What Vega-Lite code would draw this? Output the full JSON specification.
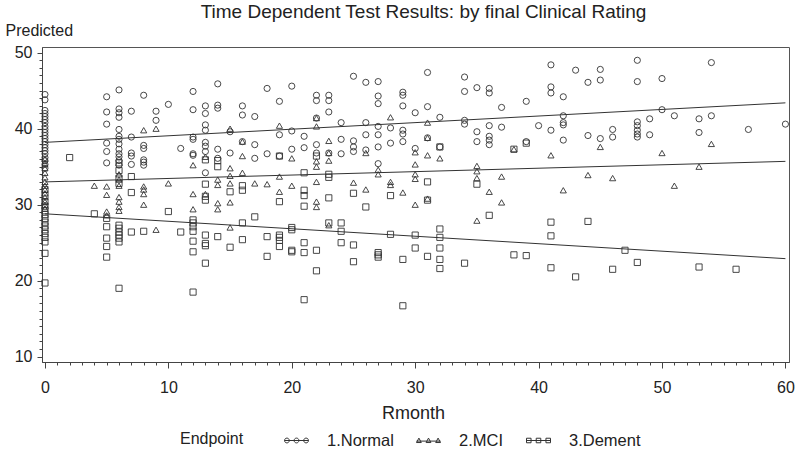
{
  "$schema": "https://vega.github.io/schema/vega-lite/v6.json",
  "width": 747,
  "height": 315,
  "autosize": "none",
  "padding": {"left": 42, "top": 47, "right": 11, "bottom": 96},
  "background": "white",
  "title": {"text": "Time Dependent Test Results: by final Clinical Rating", "font": "Liberation Sans", "fontSize": 19, "fontWeight": "normal", "color": "#222", "anchor": "middle", "dx": 8, "dy": 15, "offset": 0, "baseline": "alphabetic"},
  "config": {"view": {"stroke": "#555", "strokeWidth": 1}, "font": "Liberation Sans"},
  "datasets": {
    "fit": [
      {"Rmonth": 0, "Predicted": 38.2, "Endpoint": "1.Normal"}, {"Rmonth": 60, "Predicted": 43.4, "Endpoint": "1.Normal"},
      {"Rmonth": 0, "Predicted": 33.0, "Endpoint": "2.MCI"}, {"Rmonth": 60, "Predicted": 35.7, "Endpoint": "2.MCI"},
      {"Rmonth": 0, "Predicted": 28.8, "Endpoint": "3.Dement"}, {"Rmonth": 60, "Predicted": 22.9, "Endpoint": "3.Dement"}
    ],
    "pts": [
      {"Rmonth":0,"Predicted":44.5,"Endpoint":"1.Normal"},{"Rmonth":0,"Predicted":43.8,"Endpoint":"1.Normal"},{"Rmonth":0,"Predicted":42.4,"Endpoint":"1.Normal"},{"Rmonth":0,"Predicted":42.0,"Endpoint":"1.Normal"},{"Rmonth":0,"Predicted":41.6,"Endpoint":"1.Normal"},{"Rmonth":0,"Predicted":41.2,"Endpoint":"1.Normal"},{"Rmonth":0,"Predicted":40.8,"Endpoint":"1.Normal"},{"Rmonth":0,"Predicted":40.3,"Endpoint":"1.Normal"},{"Rmonth":0,"Predicted":39.9,"Endpoint":"1.Normal"},{"Rmonth":0,"Predicted":39.5,"Endpoint":"1.Normal"},{"Rmonth":0,"Predicted":39.1,"Endpoint":"1.Normal"},{"Rmonth":0,"Predicted":38.7,"Endpoint":"1.Normal"},{"Rmonth":0,"Predicted":38.3,"Endpoint":"1.Normal"},{"Rmonth":0,"Predicted":37.9,"Endpoint":"1.Normal"},{"Rmonth":0,"Predicted":37.5,"Endpoint":"1.Normal"},{"Rmonth":0,"Predicted":37.1,"Endpoint":"1.Normal"},{"Rmonth":0,"Predicted":36.7,"Endpoint":"1.Normal"},{"Rmonth":0,"Predicted":36.2,"Endpoint":"1.Normal"},{"Rmonth":0,"Predicted":35.8,"Endpoint":"1.Normal"},{"Rmonth":0,"Predicted":35.3,"Endpoint":"1.Normal"},{"Rmonth":0,"Predicted":34.8,"Endpoint":"1.Normal"},
      {"Rmonth":5,"Predicted":44.2,"Endpoint":"1.Normal"},{"Rmonth":5,"Predicted":42.2,"Endpoint":"1.Normal"},{"Rmonth":5,"Predicted":40.6,"Endpoint":"1.Normal"},{"Rmonth":5,"Predicted":38.1,"Endpoint":"1.Normal"},{"Rmonth":5,"Predicted":37.0,"Endpoint":"1.Normal"},{"Rmonth":5,"Predicted":35.5,"Endpoint":"1.Normal"},
      {"Rmonth":6,"Predicted":45.1,"Endpoint":"1.Normal"},{"Rmonth":6,"Predicted":42.6,"Endpoint":"1.Normal"},{"Rmonth":6,"Predicted":42.1,"Endpoint":"1.Normal"},{"Rmonth":6,"Predicted":41.5,"Endpoint":"1.Normal"},{"Rmonth":6,"Predicted":39.9,"Endpoint":"1.Normal"},{"Rmonth":6,"Predicted":39.0,"Endpoint":"1.Normal"},{"Rmonth":6,"Predicted":38.6,"Endpoint":"1.Normal"},{"Rmonth":6,"Predicted":38.0,"Endpoint":"1.Normal"},{"Rmonth":6,"Predicted":37.3,"Endpoint":"1.Normal"},{"Rmonth":6,"Predicted":36.7,"Endpoint":"1.Normal"},{"Rmonth":6,"Predicted":36.3,"Endpoint":"1.Normal"},{"Rmonth":6,"Predicted":35.8,"Endpoint":"1.Normal"},{"Rmonth":6,"Predicted":35.2,"Endpoint":"1.Normal"},
      {"Rmonth":7,"Predicted":42.3,"Endpoint":"1.Normal"},{"Rmonth":7,"Predicted":38.9,"Endpoint":"1.Normal"},{"Rmonth":7,"Predicted":36.8,"Endpoint":"1.Normal"},{"Rmonth":7,"Predicted":36.4,"Endpoint":"1.Normal"},{"Rmonth":7,"Predicted":35.3,"Endpoint":"1.Normal"},
      {"Rmonth":8,"Predicted":44.4,"Endpoint":"1.Normal"},{"Rmonth":8,"Predicted":37.8,"Endpoint":"1.Normal"},{"Rmonth":8,"Predicted":37.4,"Endpoint":"1.Normal"},{"Rmonth":8,"Predicted":35.9,"Endpoint":"1.Normal"},{"Rmonth":8,"Predicted":35.6,"Endpoint":"1.Normal"},{"Rmonth":8,"Predicted":35.2,"Endpoint":"1.Normal"},
      {"Rmonth":9,"Predicted":42.3,"Endpoint":"1.Normal"},{"Rmonth":9,"Predicted":41.1,"Endpoint":"1.Normal"},
      {"Rmonth":10,"Predicted":43.2,"Endpoint":"1.Normal"},{"Rmonth":11,"Predicted":37.4,"Endpoint":"1.Normal"},
      {"Rmonth":12,"Predicted":44.9,"Endpoint":"1.Normal"},{"Rmonth":12,"Predicted":42.5,"Endpoint":"1.Normal"},{"Rmonth":12,"Predicted":38.9,"Endpoint":"1.Normal"},{"Rmonth":12,"Predicted":38.6,"Endpoint":"1.Normal"},{"Rmonth":12,"Predicted":36.7,"Endpoint":"1.Normal"},{"Rmonth":12,"Predicted":36.5,"Endpoint":"1.Normal"},
      {"Rmonth":13,"Predicted":43.0,"Endpoint":"1.Normal"},{"Rmonth":13,"Predicted":42.0,"Endpoint":"1.Normal"},{"Rmonth":13,"Predicted":40.5,"Endpoint":"1.Normal"},{"Rmonth":13,"Predicted":39.8,"Endpoint":"1.Normal"},{"Rmonth":13,"Predicted":38.2,"Endpoint":"1.Normal"},{"Rmonth":13,"Predicted":37.7,"Endpoint":"1.Normal"},{"Rmonth":13,"Predicted":37.0,"Endpoint":"1.Normal"},{"Rmonth":13,"Predicted":34.2,"Endpoint":"1.Normal"},
      {"Rmonth":14,"Predicted":45.9,"Endpoint":"1.Normal"},{"Rmonth":14,"Predicted":43.1,"Endpoint":"1.Normal"},{"Rmonth":14,"Predicted":42.7,"Endpoint":"1.Normal"},{"Rmonth":14,"Predicted":37.3,"Endpoint":"1.Normal"},{"Rmonth":14,"Predicted":36.1,"Endpoint":"1.Normal"},
      {"Rmonth":15,"Predicted":39.6,"Endpoint":"1.Normal"},{"Rmonth":15,"Predicted":36.8,"Endpoint":"1.Normal"},
      {"Rmonth":16,"Predicted":43.0,"Endpoint":"1.Normal"},{"Rmonth":16,"Predicted":41.8,"Endpoint":"1.Normal"},{"Rmonth":16,"Predicted":38.3,"Endpoint":"1.Normal"},
      {"Rmonth":17,"Predicted":41.6,"Endpoint":"1.Normal"},{"Rmonth":17,"Predicted":37.9,"Endpoint":"1.Normal"},{"Rmonth":17,"Predicted":36.1,"Endpoint":"1.Normal"},
      {"Rmonth":18,"Predicted":45.3,"Endpoint":"1.Normal"},{"Rmonth":18,"Predicted":36.7,"Endpoint":"1.Normal"},
      {"Rmonth":19,"Predicted":43.6,"Endpoint":"1.Normal"},{"Rmonth":19,"Predicted":39.2,"Endpoint":"1.Normal"},{"Rmonth":19,"Predicted":36.4,"Endpoint":"1.Normal"},
      {"Rmonth":20,"Predicted":45.6,"Endpoint":"1.Normal"},{"Rmonth":20,"Predicted":39.7,"Endpoint":"1.Normal"},{"Rmonth":20,"Predicted":37.3,"Endpoint":"1.Normal"},
      {"Rmonth":21,"Predicted":39.0,"Endpoint":"1.Normal"},{"Rmonth":21,"Predicted":37.5,"Endpoint":"1.Normal"},
      {"Rmonth":22,"Predicted":44.4,"Endpoint":"1.Normal"},{"Rmonth":22,"Predicted":43.7,"Endpoint":"1.Normal"},{"Rmonth":22,"Predicted":41.4,"Endpoint":"1.Normal"},{"Rmonth":22,"Predicted":37.9,"Endpoint":"1.Normal"},{"Rmonth":22,"Predicted":36.8,"Endpoint":"1.Normal"},
      {"Rmonth":23,"Predicted":44.4,"Endpoint":"1.Normal"},{"Rmonth":23,"Predicted":43.7,"Endpoint":"1.Normal"},{"Rmonth":23,"Predicted":42.2,"Endpoint":"1.Normal"},{"Rmonth":23,"Predicted":36.8,"Endpoint":"1.Normal"},
      {"Rmonth":24,"Predicted":40.8,"Endpoint":"1.Normal"},{"Rmonth":24,"Predicted":38.6,"Endpoint":"1.Normal"},{"Rmonth":24,"Predicted":36.7,"Endpoint":"1.Normal"},
      {"Rmonth":25,"Predicted":46.9,"Endpoint":"1.Normal"},{"Rmonth":25,"Predicted":38.4,"Endpoint":"1.Normal"},{"Rmonth":25,"Predicted":37.6,"Endpoint":"1.Normal"},{"Rmonth":25,"Predicted":37.0,"Endpoint":"1.Normal"},
      {"Rmonth":26,"Predicted":46.1,"Endpoint":"1.Normal"},{"Rmonth":26,"Predicted":40.8,"Endpoint":"1.Normal"},{"Rmonth":26,"Predicted":39.2,"Endpoint":"1.Normal"},{"Rmonth":26,"Predicted":37.2,"Endpoint":"1.Normal"},
      {"Rmonth":27,"Predicted":46.2,"Endpoint":"1.Normal"},{"Rmonth":27,"Predicted":44.3,"Endpoint":"1.Normal"},{"Rmonth":27,"Predicted":43.3,"Endpoint":"1.Normal"},{"Rmonth":27,"Predicted":40.3,"Endpoint":"1.Normal"},{"Rmonth":27,"Predicted":39.2,"Endpoint":"1.Normal"},{"Rmonth":27,"Predicted":37.6,"Endpoint":"1.Normal"},{"Rmonth":27,"Predicted":35.4,"Endpoint":"1.Normal"},
      {"Rmonth":28,"Predicted":40.1,"Endpoint":"1.Normal"},{"Rmonth":28,"Predicted":38.1,"Endpoint":"1.Normal"},
      {"Rmonth":29,"Predicted":44.8,"Endpoint":"1.Normal"},{"Rmonth":29,"Predicted":44.4,"Endpoint":"1.Normal"},{"Rmonth":29,"Predicted":43.0,"Endpoint":"1.Normal"},{"Rmonth":29,"Predicted":39.8,"Endpoint":"1.Normal"},{"Rmonth":29,"Predicted":39.3,"Endpoint":"1.Normal"},{"Rmonth":29,"Predicted":38.3,"Endpoint":"1.Normal"},
      {"Rmonth":30,"Predicted":42.1,"Endpoint":"1.Normal"},{"Rmonth":30,"Predicted":37.4,"Endpoint":"1.Normal"},
      {"Rmonth":31,"Predicted":47.4,"Endpoint":"1.Normal"},{"Rmonth":31,"Predicted":42.9,"Endpoint":"1.Normal"},{"Rmonth":31,"Predicted":38.8,"Endpoint":"1.Normal"},
      {"Rmonth":32,"Predicted":41.5,"Endpoint":"1.Normal"},{"Rmonth":32,"Predicted":37.6,"Endpoint":"1.Normal"},
      {"Rmonth":34,"Predicted":46.8,"Endpoint":"1.Normal"},{"Rmonth":34,"Predicted":44.9,"Endpoint":"1.Normal"},{"Rmonth":34,"Predicted":41.1,"Endpoint":"1.Normal"},{"Rmonth":34,"Predicted":40.6,"Endpoint":"1.Normal"},
      {"Rmonth":35,"Predicted":45.4,"Endpoint":"1.Normal"},{"Rmonth":35,"Predicted":39.6,"Endpoint":"1.Normal"},{"Rmonth":35,"Predicted":38.3,"Endpoint":"1.Normal"},
      {"Rmonth":36,"Predicted":45.3,"Endpoint":"1.Normal"},{"Rmonth":36,"Predicted":44.7,"Endpoint":"1.Normal"},{"Rmonth":36,"Predicted":40.4,"Endpoint":"1.Normal"},{"Rmonth":36,"Predicted":39.0,"Endpoint":"1.Normal"},{"Rmonth":36,"Predicted":38.5,"Endpoint":"1.Normal"},{"Rmonth":36,"Predicted":37.9,"Endpoint":"1.Normal"},
      {"Rmonth":37,"Predicted":42.8,"Endpoint":"1.Normal"},{"Rmonth":37,"Predicted":40.2,"Endpoint":"1.Normal"},
      {"Rmonth":39,"Predicted":43.6,"Endpoint":"1.Normal"},{"Rmonth":39,"Predicted":38.3,"Endpoint":"1.Normal"},
      {"Rmonth":40,"Predicted":40.4,"Endpoint":"1.Normal"},
      {"Rmonth":41,"Predicted":48.4,"Endpoint":"1.Normal"},{"Rmonth":41,"Predicted":45.5,"Endpoint":"1.Normal"},{"Rmonth":41,"Predicted":44.7,"Endpoint":"1.Normal"},{"Rmonth":41,"Predicted":39.8,"Endpoint":"1.Normal"},
      {"Rmonth":42,"Predicted":44.2,"Endpoint":"1.Normal"},{"Rmonth":42,"Predicted":41.7,"Endpoint":"1.Normal"},{"Rmonth":42,"Predicted":40.8,"Endpoint":"1.Normal"},{"Rmonth":42,"Predicted":40.5,"Endpoint":"1.Normal"},{"Rmonth":42,"Predicted":38.5,"Endpoint":"1.Normal"},
      {"Rmonth":43,"Predicted":47.7,"Endpoint":"1.Normal"},
      {"Rmonth":44,"Predicted":46.1,"Endpoint":"1.Normal"},{"Rmonth":44,"Predicted":39.1,"Endpoint":"1.Normal"},
      {"Rmonth":45,"Predicted":47.8,"Endpoint":"1.Normal"},{"Rmonth":45,"Predicted":46.4,"Endpoint":"1.Normal"},{"Rmonth":45,"Predicted":38.7,"Endpoint":"1.Normal"},
      {"Rmonth":46,"Predicted":39.9,"Endpoint":"1.Normal"},{"Rmonth":46,"Predicted":38.9,"Endpoint":"1.Normal"},
      {"Rmonth":48,"Predicted":49.0,"Endpoint":"1.Normal"},{"Rmonth":48,"Predicted":46.2,"Endpoint":"1.Normal"},{"Rmonth":48,"Predicted":40.9,"Endpoint":"1.Normal"},{"Rmonth":48,"Predicted":40.4,"Endpoint":"1.Normal"},{"Rmonth":48,"Predicted":39.8,"Endpoint":"1.Normal"},{"Rmonth":48,"Predicted":39.3,"Endpoint":"1.Normal"},{"Rmonth":48,"Predicted":38.9,"Endpoint":"1.Normal"},
      {"Rmonth":49,"Predicted":41.3,"Endpoint":"1.Normal"},{"Rmonth":49,"Predicted":39.2,"Endpoint":"1.Normal"},
      {"Rmonth":50,"Predicted":46.6,"Endpoint":"1.Normal"},{"Rmonth":50,"Predicted":42.5,"Endpoint":"1.Normal"},
      {"Rmonth":51,"Predicted":41.7,"Endpoint":"1.Normal"},
      {"Rmonth":53,"Predicted":41.3,"Endpoint":"1.Normal"},{"Rmonth":53,"Predicted":39.5,"Endpoint":"1.Normal"},
      {"Rmonth":54,"Predicted":48.7,"Endpoint":"1.Normal"},{"Rmonth":54,"Predicted":41.7,"Endpoint":"1.Normal"},
      {"Rmonth":57,"Predicted":39.9,"Endpoint":"1.Normal"},{"Rmonth":60,"Predicted":40.6,"Endpoint":"1.Normal"},

      {"Rmonth":0,"Predicted":36.0,"Endpoint":"2.MCI"},{"Rmonth":0,"Predicted":35.4,"Endpoint":"2.MCI"},{"Rmonth":0,"Predicted":34.8,"Endpoint":"2.MCI"},{"Rmonth":0,"Predicted":34.2,"Endpoint":"2.MCI"},{"Rmonth":0,"Predicted":33.6,"Endpoint":"2.MCI"},{"Rmonth":0,"Predicted":33.0,"Endpoint":"2.MCI"},{"Rmonth":0,"Predicted":32.5,"Endpoint":"2.MCI"},{"Rmonth":0,"Predicted":32.0,"Endpoint":"2.MCI"},{"Rmonth":0,"Predicted":31.5,"Endpoint":"2.MCI"},{"Rmonth":0,"Predicted":31.0,"Endpoint":"2.MCI"},{"Rmonth":0,"Predicted":30.4,"Endpoint":"2.MCI"},{"Rmonth":0,"Predicted":30.0,"Endpoint":"2.MCI"},{"Rmonth":0,"Predicted":29.5,"Endpoint":"2.MCI"},
      {"Rmonth":4,"Predicted":32.5,"Endpoint":"2.MCI"},
      {"Rmonth":5,"Predicted":32.4,"Endpoint":"2.MCI"},{"Rmonth":5,"Predicted":31.3,"Endpoint":"2.MCI"},{"Rmonth":5,"Predicted":29.1,"Endpoint":"2.MCI"},{"Rmonth":5,"Predicted":28.6,"Endpoint":"2.MCI"},
      {"Rmonth":6,"Predicted":34.0,"Endpoint":"2.MCI"},{"Rmonth":6,"Predicted":33.3,"Endpoint":"2.MCI"},{"Rmonth":6,"Predicted":32.5,"Endpoint":"2.MCI"},{"Rmonth":6,"Predicted":31.0,"Endpoint":"2.MCI"},{"Rmonth":6,"Predicted":30.4,"Endpoint":"2.MCI"},{"Rmonth":6,"Predicted":29.7,"Endpoint":"2.MCI"},{"Rmonth":6,"Predicted":29.2,"Endpoint":"2.MCI"},
      {"Rmonth":8,"Predicted":39.8,"Endpoint":"2.MCI"},{"Rmonth":8,"Predicted":32.4,"Endpoint":"2.MCI"},{"Rmonth":8,"Predicted":32.0,"Endpoint":"2.MCI"},{"Rmonth":8,"Predicted":31.4,"Endpoint":"2.MCI"},{"Rmonth":8,"Predicted":30.0,"Endpoint":"2.MCI"},
      {"Rmonth":9,"Predicted":40.0,"Endpoint":"2.MCI"},{"Rmonth":9,"Predicted":26.7,"Endpoint":"2.MCI"},
      {"Rmonth":10,"Predicted":32.8,"Endpoint":"2.MCI"},
      {"Rmonth":12,"Predicted":35.2,"Endpoint":"2.MCI"},{"Rmonth":12,"Predicted":31.4,"Endpoint":"2.MCI"},{"Rmonth":12,"Predicted":29.4,"Endpoint":"2.MCI"},
      {"Rmonth":13,"Predicted":36.3,"Endpoint":"2.MCI"},{"Rmonth":13,"Predicted":31.4,"Endpoint":"2.MCI"},
      {"Rmonth":14,"Predicted":33.3,"Endpoint":"2.MCI"},{"Rmonth":14,"Predicted":32.6,"Endpoint":"2.MCI"},{"Rmonth":14,"Predicted":30.2,"Endpoint":"2.MCI"},{"Rmonth":14,"Predicted":29.4,"Endpoint":"2.MCI"},
      {"Rmonth":15,"Predicted":40.0,"Endpoint":"2.MCI"},{"Rmonth":15,"Predicted":34.8,"Endpoint":"2.MCI"},{"Rmonth":15,"Predicted":33.8,"Endpoint":"2.MCI"},{"Rmonth":15,"Predicted":32.8,"Endpoint":"2.MCI"},{"Rmonth":15,"Predicted":30.3,"Endpoint":"2.MCI"},{"Rmonth":15,"Predicted":27.0,"Endpoint":"2.MCI"},
      {"Rmonth":16,"Predicted":38.3,"Endpoint":"2.MCI"},{"Rmonth":16,"Predicted":36.4,"Endpoint":"2.MCI"},{"Rmonth":16,"Predicted":34.2,"Endpoint":"2.MCI"},
      {"Rmonth":17,"Predicted":32.8,"Endpoint":"2.MCI"},{"Rmonth":18,"Predicted":32.7,"Endpoint":"2.MCI"},
      {"Rmonth":19,"Predicted":40.4,"Endpoint":"2.MCI"},{"Rmonth":19,"Predicted":33.7,"Endpoint":"2.MCI"},{"Rmonth":19,"Predicted":31.7,"Endpoint":"2.MCI"},
      {"Rmonth":20,"Predicted":36.1,"Endpoint":"2.MCI"},{"Rmonth":20,"Predicted":32.5,"Endpoint":"2.MCI"},
      {"Rmonth":22,"Predicted":41.4,"Endpoint":"2.MCI"},{"Rmonth":22,"Predicted":40.3,"Endpoint":"2.MCI"},{"Rmonth":22,"Predicted":35.7,"Endpoint":"2.MCI"},{"Rmonth":22,"Predicted":35.0,"Endpoint":"2.MCI"},{"Rmonth":22,"Predicted":33.0,"Endpoint":"2.MCI"},{"Rmonth":22,"Predicted":30.4,"Endpoint":"2.MCI"},{"Rmonth":22,"Predicted":29.7,"Endpoint":"2.MCI"},
      {"Rmonth":23,"Predicted":38.4,"Endpoint":"2.MCI"},{"Rmonth":23,"Predicted":36.8,"Endpoint":"2.MCI"},{"Rmonth":23,"Predicted":35.8,"Endpoint":"2.MCI"},{"Rmonth":23,"Predicted":27.3,"Endpoint":"2.MCI"},
      {"Rmonth":25,"Predicted":32.9,"Endpoint":"2.MCI"},
      {"Rmonth":26,"Predicted":36.8,"Endpoint":"2.MCI"},{"Rmonth":26,"Predicted":32.0,"Endpoint":"2.MCI"},
      {"Rmonth":27,"Predicted":34.6,"Endpoint":"2.MCI"},{"Rmonth":27,"Predicted":34.0,"Endpoint":"2.MCI"},
      {"Rmonth":28,"Predicted":41.5,"Endpoint":"2.MCI"},{"Rmonth":28,"Predicted":33.0,"Endpoint":"2.MCI"},{"Rmonth":28,"Predicted":32.6,"Endpoint":"2.MCI"},
      {"Rmonth":29,"Predicted":31.6,"Endpoint":"2.MCI"},
      {"Rmonth":30,"Predicted":36.9,"Endpoint":"2.MCI"},{"Rmonth":30,"Predicted":35.3,"Endpoint":"2.MCI"},{"Rmonth":30,"Predicted":34.0,"Endpoint":"2.MCI"},{"Rmonth":30,"Predicted":33.4,"Endpoint":"2.MCI"},{"Rmonth":30,"Predicted":30.0,"Endpoint":"2.MCI"},
      {"Rmonth":31,"Predicted":40.8,"Endpoint":"2.MCI"},{"Rmonth":31,"Predicted":38.8,"Endpoint":"2.MCI"},{"Rmonth":31,"Predicted":36.5,"Endpoint":"2.MCI"},{"Rmonth":31,"Predicted":30.8,"Endpoint":"2.MCI"},
      {"Rmonth":32,"Predicted":36.1,"Endpoint":"2.MCI"},
      {"Rmonth":35,"Predicted":35.1,"Endpoint":"2.MCI"},{"Rmonth":35,"Predicted":34.4,"Endpoint":"2.MCI"},{"Rmonth":35,"Predicted":33.5,"Endpoint":"2.MCI"},{"Rmonth":35,"Predicted":27.9,"Endpoint":"2.MCI"},
      {"Rmonth":36,"Predicted":31.7,"Endpoint":"2.MCI"},
      {"Rmonth":37,"Predicted":33.7,"Endpoint":"2.MCI"},{"Rmonth":37,"Predicted":30.3,"Endpoint":"2.MCI"},
      {"Rmonth":38,"Predicted":37.3,"Endpoint":"2.MCI"},{"Rmonth":41,"Predicted":36.5,"Endpoint":"2.MCI"},{"Rmonth":42,"Predicted":31.9,"Endpoint":"2.MCI"},{"Rmonth":44,"Predicted":33.9,"Endpoint":"2.MCI"},{"Rmonth":45,"Predicted":37.6,"Endpoint":"2.MCI"},{"Rmonth":46,"Predicted":33.5,"Endpoint":"2.MCI"},{"Rmonth":50,"Predicted":36.8,"Endpoint":"2.MCI"},{"Rmonth":51,"Predicted":32.5,"Endpoint":"2.MCI"},{"Rmonth":53,"Predicted":35.0,"Endpoint":"2.MCI"},{"Rmonth":54,"Predicted":38.0,"Endpoint":"2.MCI"},

      {"Rmonth":0,"Predicted":32.0,"Endpoint":"3.Dement"},{"Rmonth":0,"Predicted":31.2,"Endpoint":"3.Dement"},{"Rmonth":0,"Predicted":30.4,"Endpoint":"3.Dement"},{"Rmonth":0,"Predicted":29.8,"Endpoint":"3.Dement"},{"Rmonth":0,"Predicted":29.2,"Endpoint":"3.Dement"},{"Rmonth":0,"Predicted":28.7,"Endpoint":"3.Dement"},{"Rmonth":0,"Predicted":28.2,"Endpoint":"3.Dement"},{"Rmonth":0,"Predicted":27.7,"Endpoint":"3.Dement"},{"Rmonth":0,"Predicted":27.2,"Endpoint":"3.Dement"},{"Rmonth":0,"Predicted":26.7,"Endpoint":"3.Dement"},{"Rmonth":0,"Predicted":26.2,"Endpoint":"3.Dement"},{"Rmonth":0,"Predicted":25.7,"Endpoint":"3.Dement"},{"Rmonth":0,"Predicted":25.1,"Endpoint":"3.Dement"},{"Rmonth":0,"Predicted":23.6,"Endpoint":"3.Dement"},{"Rmonth":0,"Predicted":19.7,"Endpoint":"3.Dement"},
      {"Rmonth":2,"Predicted":36.2,"Endpoint":"3.Dement"},{"Rmonth":4,"Predicted":28.8,"Endpoint":"3.Dement"},
      {"Rmonth":5,"Predicted":28.2,"Endpoint":"3.Dement"},{"Rmonth":5,"Predicted":27.1,"Endpoint":"3.Dement"},{"Rmonth":5,"Predicted":25.6,"Endpoint":"3.Dement"},{"Rmonth":5,"Predicted":24.5,"Endpoint":"3.Dement"},{"Rmonth":5,"Predicted":23.1,"Endpoint":"3.Dement"},
      {"Rmonth":6,"Predicted":35.5,"Endpoint":"3.Dement"},{"Rmonth":6,"Predicted":34.5,"Endpoint":"3.Dement"},{"Rmonth":6,"Predicted":33.5,"Endpoint":"3.Dement"},{"Rmonth":6,"Predicted":32.8,"Endpoint":"3.Dement"},{"Rmonth":6,"Predicted":27.3,"Endpoint":"3.Dement"},{"Rmonth":6,"Predicted":26.9,"Endpoint":"3.Dement"},{"Rmonth":6,"Predicted":26.4,"Endpoint":"3.Dement"},{"Rmonth":6,"Predicted":26.0,"Endpoint":"3.Dement"},{"Rmonth":6,"Predicted":25.6,"Endpoint":"3.Dement"},{"Rmonth":6,"Predicted":25.1,"Endpoint":"3.Dement"},{"Rmonth":6,"Predicted":19.0,"Endpoint":"3.Dement"},
      {"Rmonth":7,"Predicted":33.7,"Endpoint":"3.Dement"},{"Rmonth":7,"Predicted":31.6,"Endpoint":"3.Dement"},{"Rmonth":7,"Predicted":26.4,"Endpoint":"3.Dement"},
      {"Rmonth":8,"Predicted":26.5,"Endpoint":"3.Dement"},{"Rmonth":10,"Predicted":29.1,"Endpoint":"3.Dement"},{"Rmonth":11,"Predicted":26.4,"Endpoint":"3.Dement"},
      {"Rmonth":12,"Predicted":28.0,"Endpoint":"3.Dement"},{"Rmonth":12,"Predicted":27.6,"Endpoint":"3.Dement"},{"Rmonth":12,"Predicted":27.1,"Endpoint":"3.Dement"},{"Rmonth":12,"Predicted":26.5,"Endpoint":"3.Dement"},{"Rmonth":12,"Predicted":25.2,"Endpoint":"3.Dement"},{"Rmonth":12,"Predicted":23.8,"Endpoint":"3.Dement"},{"Rmonth":12,"Predicted":18.5,"Endpoint":"3.Dement"},
      {"Rmonth":13,"Predicted":35.9,"Endpoint":"3.Dement"},{"Rmonth":13,"Predicted":32.7,"Endpoint":"3.Dement"},{"Rmonth":13,"Predicted":31.1,"Endpoint":"3.Dement"},{"Rmonth":13,"Predicted":30.6,"Endpoint":"3.Dement"},{"Rmonth":13,"Predicted":26.0,"Endpoint":"3.Dement"},{"Rmonth":13,"Predicted":24.9,"Endpoint":"3.Dement"},{"Rmonth":13,"Predicted":24.6,"Endpoint":"3.Dement"},{"Rmonth":13,"Predicted":22.3,"Endpoint":"3.Dement"},
      {"Rmonth":14,"Predicted":35.8,"Endpoint":"3.Dement"},{"Rmonth":14,"Predicted":35.0,"Endpoint":"3.Dement"},{"Rmonth":14,"Predicted":25.8,"Endpoint":"3.Dement"},
      {"Rmonth":15,"Predicted":31.7,"Endpoint":"3.Dement"},{"Rmonth":15,"Predicted":24.4,"Endpoint":"3.Dement"},
      {"Rmonth":16,"Predicted":32.5,"Endpoint":"3.Dement"},{"Rmonth":16,"Predicted":31.9,"Endpoint":"3.Dement"},{"Rmonth":16,"Predicted":27.6,"Endpoint":"3.Dement"},{"Rmonth":16,"Predicted":25.4,"Endpoint":"3.Dement"},
      {"Rmonth":17,"Predicted":28.4,"Endpoint":"3.Dement"},
      {"Rmonth":18,"Predicted":25.8,"Endpoint":"3.Dement"},{"Rmonth":18,"Predicted":23.2,"Endpoint":"3.Dement"},
      {"Rmonth":19,"Predicted":36.4,"Endpoint":"3.Dement"},{"Rmonth":19,"Predicted":30.4,"Endpoint":"3.Dement"},{"Rmonth":19,"Predicted":26.0,"Endpoint":"3.Dement"},{"Rmonth":19,"Predicted":25.7,"Endpoint":"3.Dement"},{"Rmonth":19,"Predicted":25.3,"Endpoint":"3.Dement"},{"Rmonth":19,"Predicted":24.5,"Endpoint":"3.Dement"},
      {"Rmonth":20,"Predicted":27.0,"Endpoint":"3.Dement"},{"Rmonth":20,"Predicted":26.7,"Endpoint":"3.Dement"},{"Rmonth":20,"Predicted":24.0,"Endpoint":"3.Dement"},{"Rmonth":20,"Predicted":23.8,"Endpoint":"3.Dement"},
      {"Rmonth":21,"Predicted":34.2,"Endpoint":"3.Dement"},{"Rmonth":21,"Predicted":31.9,"Endpoint":"3.Dement"},{"Rmonth":21,"Predicted":31.2,"Endpoint":"3.Dement"},{"Rmonth":21,"Predicted":29.8,"Endpoint":"3.Dement"},{"Rmonth":21,"Predicted":25.0,"Endpoint":"3.Dement"},{"Rmonth":21,"Predicted":23.7,"Endpoint":"3.Dement"},{"Rmonth":21,"Predicted":17.5,"Endpoint":"3.Dement"},
      {"Rmonth":22,"Predicted":36.4,"Endpoint":"3.Dement"},{"Rmonth":22,"Predicted":24.0,"Endpoint":"3.Dement"},{"Rmonth":22,"Predicted":21.3,"Endpoint":"3.Dement"},
      {"Rmonth":23,"Predicted":34.0,"Endpoint":"3.Dement"},{"Rmonth":23,"Predicted":33.6,"Endpoint":"3.Dement"},{"Rmonth":23,"Predicted":30.9,"Endpoint":"3.Dement"},{"Rmonth":23,"Predicted":27.6,"Endpoint":"3.Dement"},
      {"Rmonth":24,"Predicted":27.6,"Endpoint":"3.Dement"},{"Rmonth":24,"Predicted":26.5,"Endpoint":"3.Dement"},{"Rmonth":24,"Predicted":25.0,"Endpoint":"3.Dement"},
      {"Rmonth":25,"Predicted":31.5,"Endpoint":"3.Dement"},{"Rmonth":25,"Predicted":24.7,"Endpoint":"3.Dement"},{"Rmonth":25,"Predicted":22.5,"Endpoint":"3.Dement"},
      {"Rmonth":26,"Predicted":29.7,"Endpoint":"3.Dement"},
      {"Rmonth":27,"Predicted":23.7,"Endpoint":"3.Dement"},{"Rmonth":27,"Predicted":23.4,"Endpoint":"3.Dement"},{"Rmonth":27,"Predicted":23.1,"Endpoint":"3.Dement"},
      {"Rmonth":28,"Predicted":31.2,"Endpoint":"3.Dement"},{"Rmonth":28,"Predicted":26.1,"Endpoint":"3.Dement"},
      {"Rmonth":29,"Predicted":22.8,"Endpoint":"3.Dement"},{"Rmonth":29,"Predicted":16.7,"Endpoint":"3.Dement"},
      {"Rmonth":30,"Predicted":26.0,"Endpoint":"3.Dement"},{"Rmonth":30,"Predicted":24.3,"Endpoint":"3.Dement"},
      {"Rmonth":31,"Predicted":33.0,"Endpoint":"3.Dement"},{"Rmonth":31,"Predicted":30.6,"Endpoint":"3.Dement"},{"Rmonth":31,"Predicted":23.2,"Endpoint":"3.Dement"},
      {"Rmonth":32,"Predicted":37.6,"Endpoint":"3.Dement"},{"Rmonth":32,"Predicted":26.8,"Endpoint":"3.Dement"},{"Rmonth":32,"Predicted":25.7,"Endpoint":"3.Dement"},{"Rmonth":32,"Predicted":24.3,"Endpoint":"3.Dement"},{"Rmonth":32,"Predicted":22.8,"Endpoint":"3.Dement"},{"Rmonth":32,"Predicted":21.6,"Endpoint":"3.Dement"},
      {"Rmonth":34,"Predicted":22.3,"Endpoint":"3.Dement"},{"Rmonth":35,"Predicted":32.7,"Endpoint":"3.Dement"},{"Rmonth":36,"Predicted":28.6,"Endpoint":"3.Dement"},
      {"Rmonth":38,"Predicted":37.3,"Endpoint":"3.Dement"},{"Rmonth":38,"Predicted":23.4,"Endpoint":"3.Dement"},
      {"Rmonth":39,"Predicted":38.1,"Endpoint":"3.Dement"},{"Rmonth":39,"Predicted":23.3,"Endpoint":"3.Dement"},
      {"Rmonth":41,"Predicted":27.7,"Endpoint":"3.Dement"},{"Rmonth":41,"Predicted":25.9,"Endpoint":"3.Dement"},{"Rmonth":41,"Predicted":21.7,"Endpoint":"3.Dement"},
      {"Rmonth":43,"Predicted":20.5,"Endpoint":"3.Dement"},{"Rmonth":44,"Predicted":27.8,"Endpoint":"3.Dement"},{"Rmonth":46,"Predicted":21.5,"Endpoint":"3.Dement"},{"Rmonth":47,"Predicted":24.0,"Endpoint":"3.Dement"},{"Rmonth":48,"Predicted":22.4,"Endpoint":"3.Dement"},{"Rmonth":53,"Predicted":21.8,"Endpoint":"3.Dement"},{"Rmonth":56,"Predicted":21.5,"Endpoint":"3.Dement"}
    ]
  },
  "encoding": {
    "x": {
      "field": "Rmonth", "type": "quantitative",
      "scale": {"domain": [-0.24, 60.29], "nice": false, "zero": false},
      "axis": {
        "values": [0,1,2,3,4,5,6,7,8,9,10,11,12,13,14,15,16,17,18,19,20,21,22,23,24,25,26,27,28,29,30,31,32,33,34,35,36,37,38,39,40,41,42,43,44,45,46,47,48,49,50,51,52,53,54,55,56,57,58,59,60],
        "labelExpr": "datum.value % 10 === 0 ? datum.label : ''",
        "labelOverlap": false, "labelBound": false, "labelFlush": false,
        "grid": false, "domainColor": "#444", "tickColor": "#444",
        "tickSize": {"condition": {"test": "datum.value % 10 === 0", "value": 6}, "value": 3},
        "labelFont": "Liberation Sans", "labelFontSize": 16, "labelColor": "#222", "labelPadding": 11,
        "title": "Rmonth", "titleFont": "Liberation Sans", "titleFontSize": 18, "titleFontWeight": "normal", "titleColor": "#222",
        "titleX": 371, "titleY": 56, "titleBaseline": "alphabetic", "titleAlign": "center"
      }
    },
    "y": {
      "field": "Predicted", "type": "quantitative",
      "scale": {"domain": [9.3, 50.75], "nice": false, "zero": false},
      "axis": {
        "values": [10,11,12,13,14,15,16,17,18,19,20,21,22,23,24,25,26,27,28,29,30,31,32,33,34,35,36,37,38,39,40,41,42,43,44,45,46,47,48,49,50],
        "labelExpr": "datum.value % 10 === 0 ? datum.label : ''",
        "labelOverlap": false, "labelBound": false, "labelFlush": false,
        "grid": false, "domainColor": "#444", "tickColor": "#444",
        "tickSize": {"condition": {"test": "datum.value % 10 === 0", "value": 5}, "value": 3},
        "labelFont": "Liberation Sans", "labelFontSize": 16, "labelColor": "#222", "labelPadding": 5,
        "title": "Predicted", "titleFont": "Liberation Sans", "titleFontSize": 16, "titleFontWeight": "normal", "titleColor": "#222",
        "titleAngle": 0, "titleAlign": "left", "titleBaseline": "alphabetic", "titleX": -37, "titleY": -12
      }
    }
  },
  "layer": [
    {
      "data": {"name": "fit"},
      "mark": {"type": "line", "strokeWidth": 1},
      "encoding": {
        "color": {
          "field": "Endpoint", "type": "nominal",
          "scale": {"domain": ["1.Normal", "2.MCI", "3.Dement"], "range": ["#333", "#333", "#333"]},
          "legend": {
            "orient": "none", "legendX": 138, "legendY": 381, "direction": "horizontal",
            "title": "Endpoint", "titleOrient": "left", "titleAnchor": "middle", "titleFont": "Liberation Sans", "titleFontSize": 16, "titleFontWeight": "normal", "titleColor": "#222", "titlePadding": 40, "titleBaseline": "middle",
            "labelFont": "Liberation Sans", "labelFontSize": 16.5, "labelColor": "#222", "labelOffset": 18, "columnPadding": 20,
            "symbolSize": 576, "symbolStrokeWidth": 1, "symbolFillColor": "transparent",
            "symbolType": {"expr": "datum.value === '1.Normal' ? 'M-1,0L1,0M-0.6,0A0.2,0.2 0 1,1 -1,0A0.2,0.2 0 1,1 -0.6,0M0.2,0A0.2,0.2 0 1,1 -0.2,0A0.2,0.2 0 1,1 0.2,0M1,0A0.2,0.2 0 1,1 0.6,0A0.2,0.2 0 1,1 1,0' : datum.value === '2.MCI' ? 'M-1,0.05L1,0.05M-1,0.17L-0.8,-0.2L-0.6,0.17ZM-0.2,0.17L0,-0.2L0.2,0.17ZM0.6,0.17L0.8,-0.2L1,0.17Z' : 'M-1,0L1,0M-1,-0.19H-0.62V0.19H-1ZM-0.19,-0.19H0.19V0.19H-0.19ZM0.62,-0.19H1V0.19H0.62Z'"}
          }
        }
      }
    },
    {
      "data": {"name": "pts"},
      "mark": {"type": "point", "filled": false, "color": "#333", "strokeWidth": 0.9, "size": 38, "opacity": 1},
      "encoding": {
        "shape": {
          "field": "Endpoint", "type": "nominal",
          "scale": {"range": ["circle", "triangle-up", "square"]},
          "legend": null
        }
      }
    }
  ]
}
